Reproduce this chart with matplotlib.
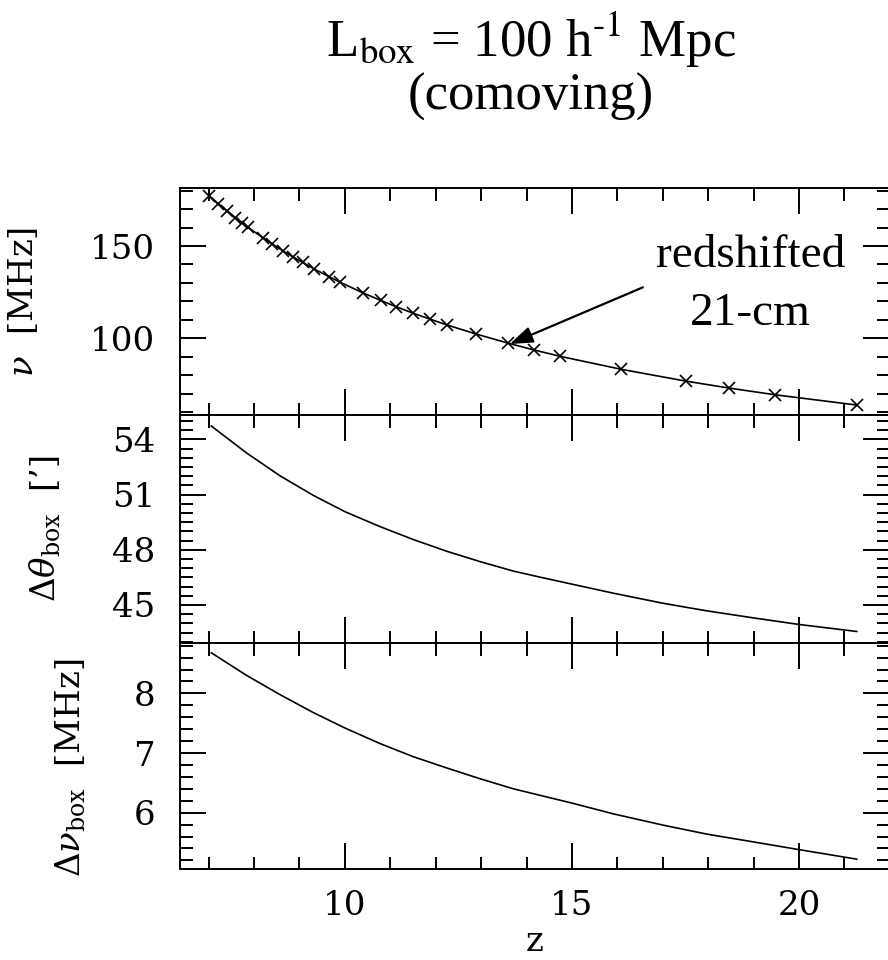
import matplotlib
matplotlib.use("Agg")
import matplotlib.pyplot as plt
from matplotlib.ticker import MultipleLocator

plt.rcParams['font.family'] = ['DejaVu Serif']
plt.rcParams['mathtext.fontset'] = 'dejavuserif'

# Redshifted 21-cm frequency at the simulation output redshifts
z_snap = [7.01, 7.21, 7.41, 7.59, 7.74, 7.87, 8.19, 8.39, 8.64, 8.86, 9.07, 9.32,
          9.65, 9.90, 10.39, 10.79, 11.12, 11.49, 11.87, 12.25, 12.89, 13.60,
          14.16, 14.74, 16.08, 17.50, 18.46, 19.46, 21.27]
nu_snap = [177.3, 173.0, 168.9, 165.4, 162.5, 160.1, 154.6, 151.3, 147.3, 144.1,
           141.1, 137.6, 133.4, 130.3, 124.7, 120.5, 117.2, 113.7, 110.4, 107.2,
           102.3, 97.3, 93.7, 90.2, 83.2, 76.8, 73.0, 69.4, 63.8]

# Angular size and bandwidth spanned by a 100 Mpc/h comoving box
z_box = [7.06, 7.84, 8.57, 9.30, 10.0, 10.77, 11.50, 12.24, 12.97, 13.71, 14.30,
         15.0, 15.91, 17.01, 17.97, 18.99, 20.0, 21.27]
dtheta_box = [54.72, 53.25, 52.02, 50.96, 50.07, 49.26, 48.56, 47.92, 47.36, 46.84,
              46.51, 46.13, 45.64, 45.09, 44.68, 44.30, 43.94, 43.56]
dnu_box = [8.68, 8.30, 7.98, 7.68, 7.42, 7.16, 6.94, 6.75, 6.57, 6.40, 6.29,
           6.16, 5.98, 5.79, 5.64, 5.51, 5.38, 5.22]

W, H = 888, 960
fig = plt.figure(figsize=(W / 100, H / 100), dpi=100)

left_px, right_px = 180, 889
panels_px = [(188.3, 415.0), (415.0, 642.7), (642.7, 869.3)]
axes = []
for top, bot in panels_px:
    ax = fig.add_axes([left_px / W, 1 - bot / H, (right_px - left_px) / W, (bot - top) / H])
    axes.append(ax)

ax1, ax2, ax3 = axes
xlim = (6.37, 21.98)
for ax in axes:
    ax.set_xlim(*xlim)
    ax.xaxis.set_major_locator(MultipleLocator(5))
    ax.xaxis.set_minor_locator(MultipleLocator(1))
    ax.tick_params(which='both', direction='in', top=True, right=True,
                   width=1.4, colors='black', labelsize=24.5)
    ax.tick_params(which='major', length=18.5)
    ax.tick_params(which='minor', length=9)
    ax.tick_params(axis='y', pad=18)
    ax.tick_params(axis='x', pad=15)
    for s in ax.spines.values():
        s.set_linewidth(1.4)
    if ax is not ax3:
        ax.tick_params(labelbottom=False)

lw = 1.2
ax1.plot(z_snap, nu_snap, color='black', lw=lw, marker='x', ms=8.5, mew=1.2)
ax1.set_ylim(58.4, 181.3)
ax1.yaxis.set_major_locator(MultipleLocator(50))
ax1.yaxis.set_minor_locator(MultipleLocator(10))
ax1.set_ylabel(r'$\nu$  [MHz]', fontsize=24.5)
ax1.yaxis.set_label_coords(-0.198, 0.5)

ax1.annotate('', xy=(13.63, 96.9), xytext=(16.56, 127.6),
             arrowprops=dict(arrowstyle='-|>,head_length=0.7,head_width=0.25',
                             color='black', lw=1.6, mutation_scale=20,
                             shrinkA=0, shrinkB=0))
ax1.text(0.805, 0.653, 'redshifted', transform=ax1.transAxes, ha='center',
         va='baseline', fontsize=34, family='Liberation Serif')
ax1.text(0.805, 0.397, '21-cm', transform=ax1.transAxes, ha='center',
         va='baseline', fontsize=34, family='Liberation Serif')

ax2.plot(z_box, dtheta_box, color='black', lw=lw)
ax2.set_ylim(42.95, 55.32)
ax2.yaxis.set_major_locator(MultipleLocator(3))
ax2.yaxis.set_minor_locator(MultipleLocator(0.5))
ax2.set_ylabel(r'$\Delta\theta_{\mathrm{box}}$  [’]', fontsize=24.5)
ax2.yaxis.set_label_coords(-0.165, 0.5)

ax3.plot(z_box, dnu_box, color='black', lw=lw)
ax3.set_ylim(5.05, 8.85)
ax3.yaxis.set_major_locator(MultipleLocator(1))
ax3.yaxis.set_minor_locator(MultipleLocator(0.2))
ax3.set_ylabel(r'$\Delta\nu_{\mathrm{box}}$  [MHz]', fontsize=24.5)
ax3.yaxis.set_label_coords(-0.130, 0.45)

# x-axis label placed by baseline so its box stays inside the canvas
fig.text((535) / W, 1 - 951 / H, 'z', ha='center', va='baseline', fontsize=24.5)

cx = 531 / W
fig.text(cx, 1 - 57 / H, r'L$_{\mathrm{box}}$ = 100 h$^{\text{-1}}$ Mpc', ha='center',
         va='baseline', fontsize=38, family='Liberation Serif', math_fontfamily='stix')
fig.text(cx, 1 - 110 / H, '(comoving)', ha='center', va='baseline', fontsize=38,
         family='Liberation Serif')

fig.savefig('out.png', dpi=100)
